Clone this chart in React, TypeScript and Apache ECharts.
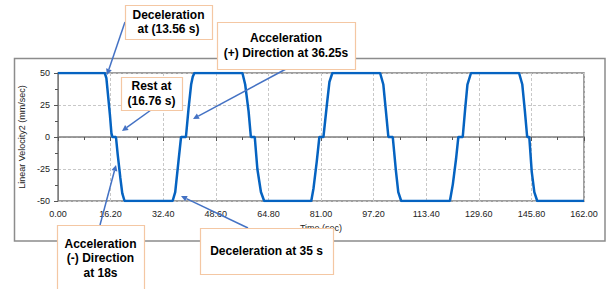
import React, { useEffect, useRef } from "react";
import * as echarts from "echarts";

// Time (s) and linear velocity (mm/sec)
const timeSec: number[] = [
  0, 14.4, 14.9, 15.4, 16.0, 16.45, 16.75, 17.85, 18.4, 19.2, 19.8, 20.5,
  35.3, 36.1, 37.1, 37.9, 39.4, 40.2, 41.0, 41.5, 42.0,
  56.8, 57.65, 58.7, 59.4, 60.6, 61.4, 62.5, 63.5,
  78.0, 78.7, 79.7, 80.5, 81.75, 82.8, 83.6, 84.5,
  99.2, 100.2, 101.0, 101.75, 103.1, 104.1, 104.8, 105.7,
  120.7, 121.6, 122.6, 123.3, 124.65, 125.4, 126.1, 127.2,
  142.0, 143.0, 143.8, 144.5, 145.15, 145.9, 146.7, 147.6, 162,
];
const velocity: number[] = [
  50, 50, 46, 33, 17, 3, 0, 0, -14, -32, -44, -50,
  -50, -43, -19, 0, 0, 22, 41, 47, 50,
  50, 41, 20, 0, 0, -25, -43, -50,
  -50, -40, -19, 0, 0, 25, 43, 50,
  50, 41, 20, 0, 0, -27, -43, -50,
  -50, -37, -17, 0, 0, 22, 41, 50,
  50, 41, 20, 0, 0, -27, -43, -50, -50,
];

const xTickInterval = 16.2;
const yTickInterval = 25;
const xTitle = "Time (sec)";
const yTitle = "Linear Velocity2 (mm/sec)";

// Annotation callouts: text lines
const notes = [
  { lines: ["Deceleration", "at (13.56 s)"] },
  { lines: ["Acceleration", "(+) Direction at 36.25s"] },
  { lines: ["Rest at", "(16.76 s)"] },
  { lines: ["Acceleration", "(-) Direction", "at 18s"] },
  { lines: ["Deceleration at 35 s"] },
];

// layout for callouts (pixels)
const noteBoxes = [
  { x: 125, y: 5, w: 87, h: 34, cy: 22 },
  { x: 217, y: 22, w: 138, h: 47, cy: 45.5 },
  { x: 121, y: 77, w: 61, h: 33, cy: 93.5 },
  { x: 57, y: 225, w: 87, h: 70, cy: 258 },
  { x: 200, y: 228, w: 133, h: 46, cy: 251 },
];
const arrows = [
  { from: [125, 22], to: [107, 75] },
  { from: [286, 69], to: [193, 119] },
  { from: [151, 110], to: [122, 131] },
  { from: [100, 225], to: [116, 165] },
  { from: [248, 228], to: [181, 196] },
];

function arrowGraphics() {
  const out: any[] = [];
  const color = "#4472c4";
  arrows.forEach((a) => {
    const [x1, y1] = a.from;
    const [x2, y2] = a.to;
    const dx = x2 - x1;
    const dy = y2 - y1;
    const len = Math.sqrt(dx * dx + dy * dy);
    const ux = dx / len;
    const uy = dy / len;
    const hl = 6;
    const hw = 3;
    const bx = x2 - ux * hl;
    const by = y2 - uy * hl;
    out.push({
      type: "line",
      z: 100,
      shape: { x1, y1, x2: bx, y2: by },
      style: { stroke: color, lineWidth: 1.5 },
    });
    out.push({
      type: "polygon",
      z: 100,
      shape: {
        points: [
          [x2, y2],
          [bx - uy * hw, by + ux * hw],
          [bx + uy * hw, by - ux * hw],
        ],
      },
      style: { fill: color },
    });
  });
  return out;
}

function noteGraphics() {
  const out: any[] = [];
  notes.forEach((n, i) => {
    const b = noteBoxes[i];
    out.push({
      type: "rect",
      z: 101,
      shape: { x: b.x + 0.5, y: b.y + 0.5, width: b.w, height: b.h },
      style: { fill: "#ffffff", stroke: "#f4c7a3", lineWidth: 1.2 },
    });
    out.push({
      type: "text",
      z: 102,
      x: b.x + b.w / 2,
      y: b.cy,
      style: {
        text: n.lines.join("\n"),
        fill: "#000000",
        font: "bold 12px 'Liberation Sans', Arial, sans-serif",
        align: "center",
        verticalAlign: "middle",
        lineHeight: 14.5,
      },
    });
  });
  return out;
}

export default function App() {
  const ref = useRef<HTMLDivElement>(null);
  useEffect(() => {
    if (!ref.current) return;
    const chart = echarts.init(ref.current, null, { renderer: "svg" });
    const data = timeSec.map((t, i) => [t, velocity[i]]);
    chart.setOption({
      animation: false,
      backgroundColor: "#ffffff",
      grid: {
        left: 58,
        right: 24,
        top: 73,
        bottom: 88,
        show: true,
        borderColor: "#7f7f7f",
        borderWidth: 1.5,
      },
      xAxis: {
        type: "value",
        min: 0,
        max: 162,
        interval: xTickInterval,
        name: xTitle,
        nameLocation: "middle",
        nameGap: 22,
        nameTextStyle: { fontFamily: "Liberation Sans", fontSize: 9, color: "#222" },
        axisLine: { lineStyle: { color: "#7f7f7f", width: 1.5 } },
        axisTick: { show: true, length: 4, lineStyle: { color: "#555" } },
        minorTick: { show: true, splitNumber: 2, length: 3, lineStyle: { color: "#555" } },
        axisLabel: {
          fontFamily: "Liberation Sans",
          fontSize: 9,
          color: "#222",
          margin: 8,
          formatter: (v: number) => v.toFixed(2),
        },
        splitLine: { show: true, lineStyle: { color: "#c8c8c8", type: [3, 2], width: 1 } },
      },
      yAxis: {
        type: "value",
        min: -50,
        max: 50,
        interval: yTickInterval,
        name: yTitle,
        nameLocation: "middle",
        nameGap: 27,
        nameTextStyle: { fontFamily: "Liberation Sans", fontSize: 9, color: "#222" },
        axisLine: { show: true, lineStyle: { color: "#7f7f7f", width: 1 } },
        axisTick: { show: true, length: 4, lineStyle: { color: "#555" } },
        minorTick: { show: true, splitNumber: 2, length: 3, lineStyle: { color: "#555" } },
        axisLabel: {
          fontFamily: "Liberation Sans",
          fontSize: 9,
          color: "#222",
          margin: 8,
        },
        splitLine: { show: true, lineStyle: { color: "#c8c8c8", type: [3, 2], width: 1 } },
      },
      series: [
        {
          type: "line",
          data,
          showSymbol: false,
          lineStyle: { color: "#0563c1", width: 2.5 },
          z: 3,
        },
      ],
      graphic: [
        {
          type: "rect",
          z: -10,
          silent: true,
          shape: { x: 14.5, y: 58.5, width: 590.5, height: 182.5 },
          style: { fill: "none", stroke: "#8c8c8c", lineWidth: 1.5 },
        },
        ...arrowGraphics(),
        ...noteGraphics(),
      ],
    });
    return () => chart.dispose();
  }, []);
  return (
    <div
      ref={ref}
      style={{ position: "absolute", left: 0, top: 0, width: 608, height: 289 }}
    />
  );
}
